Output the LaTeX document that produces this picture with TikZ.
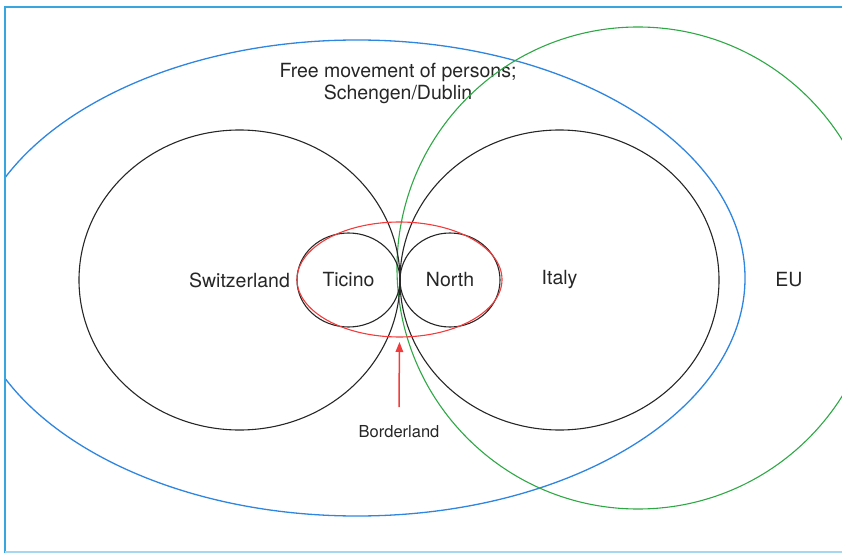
\documentclass[tikz,border=0pt]{standalone}
\usepackage{fontspec}
\setmainfont{TeX Gyre Heros}
\usetikzlibrary{shapes.geometric,arrows.meta}
\definecolor{framecol}{HTML}{3AA6E0}
\definecolor{schengencol}{HTML}{2F86E0}
\definecolor{eucol}{HTML}{2EA844}
\definecolor{bordercol}{HTML}{F03C3C}
\definecolor{textcol}{HTML}{262626}
\tikzset{
  zone/.style={draw, ellipse, inner sep=0pt, outer sep=0pt, line width=1.1pt},
  tag/.style={text=textcol, font=\fontsize{19.5}{22}\selectfont, align=center},
}
\begin{document}
\begin{tikzpicture}[x=1pt,y=-1pt]
  \useasboundingbox (0,0) rectangle (842,553);
  % frame
  \draw[framecol, line width=2.5pt] (842,7) -- (5,7) -- (5,553);
  \draw[framecol!45, line width=1.5pt] (5,552) -- (842,552);
  % Schengen area
  \begin{scope}
    \clip (6,0) rectangle (842,553);
    \node[zone, draw=schengencol, line width=1.3pt, minimum width=776, minimum height=476] (schengen) at (357,278) {};
  \end{scope}
  \node[tag] (freemove) at (398,83) {Free movement of persons;\\Schengen/Dublin};
  % EU
  \node[zone, draw=eucol, minimum width=482, minimum height=482] (eu) at (638,268) {};
  \node[tag] (eulabel) at (789,280) {EU};
  % countries
  \node[zone, draw=textcol, minimum width=321, minimum height=300, tag] (swiss) at (239.5,280) {Switzerland};
  \node[zone, draw=textcol, minimum width=319, minimum height=300, tag] (italy) at (559.5,280) {Italy};
  % regions
  \node[zone, draw=textcol, minimum width=103, minimum height=94, tag] (ticino) at (348.5,280) {Ticino};
  \node[zone, draw=textcol, minimum width=100, minimum height=94, tag] (north) at (450,280) {North};
  \node[zone, draw=bordercol, minimum width=205, minimum height=115] (border) at (399.5,279.5) {};
  % borderland
  \node[tag, font=\fontsize{16.5}{19}\selectfont] (borderland) at (399,432) {Borderland};
  \coordinate (tail) at (399,407);
  \draw[bordercol, line width=1.5pt, -{Triangle[length=10pt,width=7.5pt]}, shorten >=5pt] (tail) -- (border.south);
\end{tikzpicture}
\end{document}
